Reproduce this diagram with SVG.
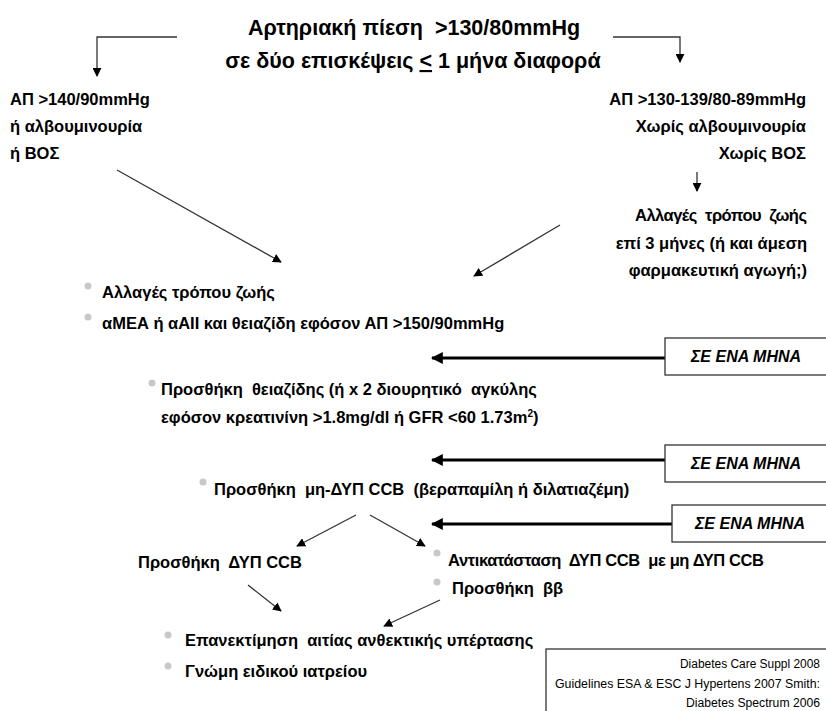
<svg xmlns="http://www.w3.org/2000/svg" width="826" height="711" viewBox="0 0 826 711">
<defs>
<marker id="ah" viewBox="0 0 10 10" refX="9" refY="5" markerWidth="9" markerHeight="9" markerUnits="userSpaceOnUse" orient="auto"><path d="M0,0 L10,5 L0,10 z" fill="#000"/></marker>
<marker id="ahb" viewBox="0 0 10 10" refX="9" refY="5" markerWidth="4" markerHeight="4" orient="auto"><path d="M0,0 L10,5 L0,10 z" fill="#000"/></marker>
</defs>
<style>
text{font-family:"Liberation Sans","Noto Sans",sans-serif;fill:#000;font-weight:bold;white-space:pre}
.t{font-size:21.5px;text-anchor:middle}
.m{font-size:16.5px}
.r{text-anchor:end}
.bx{font-size:16px;font-style:italic;text-anchor:middle}
.ref{font-size:12.5px;font-weight:normal}
.ln{stroke:#333;stroke-width:1.3;fill:none;marker-end:url(#ah)}
.thk{stroke:#000;stroke-width:3;fill:none;marker-end:url(#ahb)}
.box{fill:#fff;stroke:#333;stroke-width:1.3}
.dot{fill:#c8c8c8}
</style>
<rect width="826" height="711" fill="#fff"/>
<g id="connectors">
<path class="ln" d="M177,37 H97 V76"/>
<path class="ln" d="M613,37 H680 V62"/>
<path class="ln" d="M697,172 V191"/>
<path class="ln" d="M117,170 L281,262"/>
<path class="ln" d="M560,225 L474,276"/>
<path class="thk" d="M665,358 H432"/>
<path class="thk" d="M665,460 H432"/>
<path class="thk" d="M672,524 H432"/>
<path class="ln" d="M356,515 L297,546"/>
<path class="ln" d="M370,515 L425,546"/>
<path class="ln" d="M248,585 L281,611"/>
<path class="ln" d="M440,600 L384,626"/>
</g>
<g id="title">
<text class="t" x="414" y="35">Αρτηριακή πίεση  &gt;130/80mmHg</text>
<text class="t" x="413" y="68">σε δύο επισκέψεις <tspan text-decoration="underline">&lt;</tspan> 1 μήνα διαφορά</text>
</g>
<g id="left-branch">
<text class="m" x="10" y="105">ΑΠ &gt;140/90mmHg</text>
<text class="m" x="10" y="132">ή αλβουμινουρία</text>
<text class="m" x="10" y="159">ή ΒΟΣ</text>
</g>
<g id="right-branch">
<text class="m r" x="806" y="105">ΑΠ &gt;130-139/80-89mmHg</text>
<text class="m r" x="806" y="132">Χωρίς αλβουμινουρία</text>
<text class="m r" x="806" y="159">Χωρίς ΒΟΣ</text>
</g>
<g id="lifestyle-3m">
<text class="m r" x="807" y="221" textLength="172" lengthAdjust="spacing">Αλλαγές  τρόπου  ζωής</text>
<text class="m r" x="807" y="249">επί 3 μήνες (ή και άμεση</text>
<text class="m r" x="807" y="276">φαρμακευτική αγωγή;)</text>
</g>
<g id="step1">
<circle class="dot" cx="88" cy="286" r="3.5"/>
<text class="m" x="102" y="298">Αλλαγές τρόπου ζωής</text>
<circle class="dot" cx="88" cy="317" r="3.5"/>
<text class="m" x="102" y="329">αΜΕΑ ή αΑΙΙ και θειαζίδη εφόσον ΑΠ &gt;150/90mmHg</text>
</g>
<g id="box1">
<rect class="box" x="665" y="338" width="170" height="37"/>
<text class="bx" x="746" y="362">ΣΕ ΕΝΑ ΜΗΝΑ</text>
</g>
<g id="step2">
<circle class="dot" cx="152" cy="383" r="3.5"/>
<text class="m" x="161" y="395">Προσθήκη  θειαζίδης (ή x 2 διουρητικό  αγκύλης</text>
<text class="m" x="161" y="423">εφόσον κρεατινίνη &gt;1.8mg/dl ή GFR &lt;60 1.73m<tspan font-size="10" dy="-6">2</tspan><tspan dy="6">)</tspan></text>
</g>
<g id="box2">
<rect class="box" x="665" y="445" width="170" height="37"/>
<text class="bx" x="746" y="469">ΣΕ ΕΝΑ ΜΗΝΑ</text>
</g>
<g id="step3">
<circle class="dot" cx="203" cy="482" r="3.5"/>
<text class="m" x="214" y="495">Προσθήκη  μη-ΔΥΠ CCB  (βεραπαμίλη ή διλατιαζέμη)</text>
</g>
<g id="box3">
<rect class="box" x="672" y="505" width="170" height="37"/>
<text class="bx" x="750" y="529">ΣΕ ΕΝΑ ΜΗΝΑ</text>
</g>
<g id="step4a">
<text class="m" x="138" y="568">Προσθήκη  ΔΥΠ CCB</text>
</g>
<g id="step4b">
<circle class="dot" cx="437" cy="553" r="3.5"/>
<text class="m" x="448" y="566" textLength="316" lengthAdjust="spacing">Αντικατάσταση  ΔΥΠ CCB  με μη ΔΥΠ CCB</text>
<circle class="dot" cx="437" cy="582" r="3.5"/>
<text class="m" x="452" y="594">Προσθήκη  ββ</text>
</g>
<g id="step5">
<circle class="dot" cx="168" cy="635" r="3.5"/>
<text class="m" x="185" y="646">Επανεκτίμηση  αιτίας ανθεκτικής υπέρτασης</text>
<circle class="dot" cx="168" cy="666" r="3.5"/>
<text class="m" x="185" y="677">Γνώμη ειδικού ιατρείου</text>
</g>
<g id="references">
<rect class="box" x="546" y="649" width="300" height="80"/>
<text class="ref" x="680" y="668" textLength="140" lengthAdjust="spacingAndGlyphs">Diabetes Care Suppl 2008</text>
<text class="ref" x="555" y="688" textLength="265" lengthAdjust="spacingAndGlyphs">Guidelines ESA &amp; ESC J Hypertens 2007 Smith:</text>
<text class="ref" x="686" y="707" textLength="134" lengthAdjust="spacingAndGlyphs">Diabetes Spectrum 2006</text>
</g>
</svg>
